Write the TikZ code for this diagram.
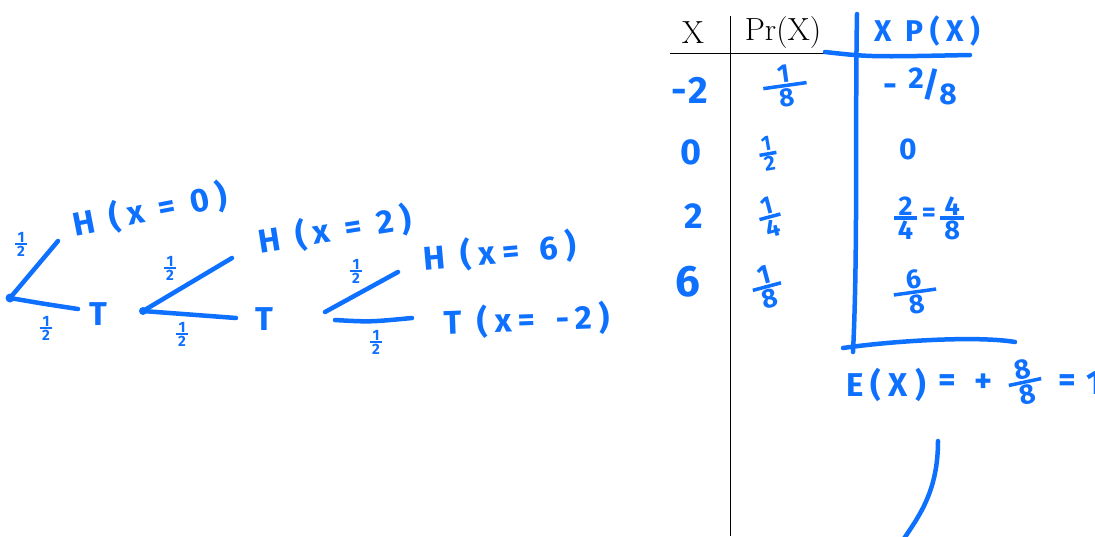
\documentclass[tikz,border=0pt]{standalone}
\usepackage{fontspec}
\newfontfamily\hand[LetterSpace=10]{Fira Sans}
\newfontfamily\handw[LetterSpace=22]{Fira Sans}
\definecolor{hb}{RGB}{14,112,255}
\newcommand\hf[3][0.15em]{\ensuremath{\vcenter{\halign{\hfil\hskip#1##\hskip#1\hfil\cr #2\cr\noalign{\kern1pt\hrule height 3.5pt\kern1pt}#3\cr}}}}
\newcommand\smfr[2]{\ensuremath{\vcenter{\halign{\hfil\,##\,\hfil\cr #1\cr\noalign{\kern0.5pt\hrule height 2.5pt\kern0.5pt}#2\cr}}}}
\newcommand\fs[1]{\fontsize{#1}{#1}\selectfont}
\begin{document}
\begin{tikzpicture}[x=1pt,y=-1pt,
  hw/.style={text=hb,font=\hand\bfseries\fs{34},inner sep=0pt},
  hl/.style={text=hb,font=\handw\bfseries\fs{33},inner sep=0pt},
  hm/.style={text=hb,font=\hand\bfseries\fs{24},inner sep=0pt},
  hs/.style={text=hb,font=\hand\bfseries\fs{15},inner sep=0pt},
  stroke/.style={draw=hb,line width=4.5pt,line cap=round,line join=round},
  tbl/.style={font=\fs{32},inner sep=0pt},
  rule/.style={draw=black,line width=1pt}]
\useasboundingbox (0,0) rectangle (1095,536);
% ---------- typeset table ----------
\node[tbl] (hx) at (693,33) {X};
\node[tbl] (hpr) at (783,33) {Pr(X)};
\coordinate (hl0) at (670,53); \coordinate (hl1) at (840,53);
\coordinate (vl0) at (730,16); \coordinate (vl1) at (730,536);
\draw[rule] (hl0) -- (hl1);
\draw[rule] (vl0) -- (vl1);
% ---------- blue table ----------
\node[hl,font=\handw\bfseries\fs{30}] (hxp) at (927,31) {X P(X)};
\coordinate (bh0) at (825,52); \coordinate (bh1) at (970,55);
\draw[stroke] (bh0) .. controls (870,57) .. (bh1);
\coordinate (bv0) at (857,14); \coordinate (bv1) at (853,352);
\draw[stroke] (bv0) .. controls (855,120) and (858,250) .. (bv1);
\coordinate (bb0) at (843,348); \coordinate (bb1) at (1015,342);
\draw[stroke] (bb0) .. controls (900,340) and (980,336) .. (bb1);
% X column
\node[hw,font=\hand\bfseries\fs{38}] (x1) at (690,90) {-2};
\node[hw,font=\hand\bfseries\fs{36}] (x2) at (691,152) {0};
\node[hw,font=\hand\bfseries\fs{36}] (x3) at (694,216) {2};
\node[hw,font=\hand\bfseries\fs{44}] (x4) at (688,282) {6};
% Pr column
\node[hm,font=\hand\bfseries\fs{26},rotate=8] (p1) at (785,86) {\hf[0.55em]{1}{8}};
\node[hm,font=\hand\bfseries\fs{21},rotate=10] (p2) at (768,154) {\hf{1}{2}};
\node[hm,font=\hand\bfseries\fs{25},rotate=15] (p3) at (770,217) {\hf{1}{4}};
\node[hm,font=\hand\bfseries\fs{27},rotate=15] (p4) at (767,287) {\hf[0.25em]{1}{8}};
% XP column
\node[hw] (q1) at (920,86) {-\,\,\raisebox{8pt}{\fs{30}2}\kern-1pt/\kern-1pt\raisebox{-8pt}{\fs{30}8}};
\node[hw,font=\hand\bfseries\fs{30}] (q2) at (908,149) {0};
\node[hm,font=\hand\bfseries\fs{27}] (q3) at (929,218) {\hf{2}{4}\,\raisebox{3pt}{=}\,\hf{4}{8}};
\node[hm,font=\hand\bfseries\fs{27},rotate=8] (q4) at (915,292) {\hf[0.5em]{6}{8}};
% E(X)
\node[hl,anchor=west] (ex) at (846,385) {E(X)};
\node[hw] (eq1) at (947,383) {=};
\node[hw] (pl) at (984,383) {+};
\node[hm,font=\hand\bfseries\fs{28},rotate=12] (ef) at (1025,382) {\hf[0.3em]{8}{8}};
\node[hw] (eq2) at (1067,383) {=};
\node[hw,anchor=west] (one) at (1086,383) {1};
\coordinate (c0) at (938,441); \coordinate (c1) at (903,540);
\draw[stroke] (c0) .. controls (938,490) and (920,515) .. (c1);
% ---------- tree 1 ----------
\coordinate (r1) at (10,298);
\coordinate (h1) at (58,241);
\coordinate (t1) at (78,309);
\draw[stroke] (r1) -- (h1);
\draw[stroke] (r1) .. controls (45,304) .. (t1);
\fill[hb] (r1) circle (4.5);
\node[hs] (l1a) at (21,244) {\smfr{1}{2}};
\node[hs] (l1b) at (46,328) {\smfr{1}{2}};
\node[hl] (T1) at (98,314) {T};
\node[hl,rotate=11] (H1) at (150,210) {H (x = 0)};
% ---------- tree 2 ----------
\coordinate (r2) at (143,311);
\coordinate (h2) at (232,258);
\coordinate (t2) at (236,318);
\draw[stroke] (r2) -- (h2);
\draw[stroke] (r2) .. controls (190,314) .. (t2);
\fill[hb] (r2) circle (4);
\node[hs] (l2a) at (170,268) {\smfr{1}{2}};
\node[hs] (l2b) at (182,334) {\smfr{1}{2}};
\node[hl] (T2) at (264,319) {T};
\node[hl,rotate=9] (H2) at (335,230) {H (x = 2)};
% ---------- tree 3 ----------
\coordinate (r3a) at (325,312);
\coordinate (h3) at (398,272);
\coordinate (r3b) at (335,320);
\coordinate (t3) at (412,318);
\draw[stroke] (r3a) -- (h3);
\draw[stroke] (r3b) .. controls (370,322) .. (t3);
\node[hs] (l3a) at (356,271) {\smfr{1}{2}};
\node[hs] (l3b) at (376,342) {\smfr{1}{2}};
\node[hl,rotate=5] (H3) at (500,252) {H (x= \,6)};
\node[hl,rotate=2] (T3) at (527,320) {T (x= \,-2)};
\end{tikzpicture}
\end{document}
